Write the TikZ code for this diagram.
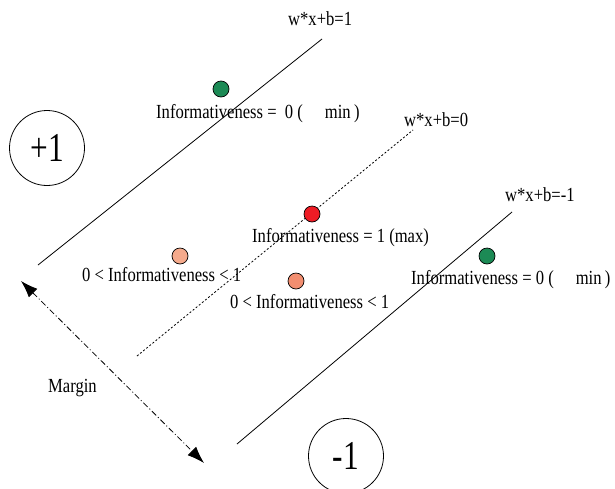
\documentclass[tikz,border=0pt]{standalone}
\usepackage{fontspec}
\setmainfont{Liberation Serif}[FakeStretch=0.83]
\usetikzlibrary{arrows.meta}
\definecolor{dotgreen}{HTML}{1C8A55}
\definecolor{dotred}{HTML}{EE1C25}
\definecolor{salmonA}{HTML}{F5AA8C}
\definecolor{salmonB}{HTML}{F28E70}
\begin{document}
\begin{tikzpicture}[x=1pt,y=-1pt,
  lbl/.style={anchor=base west, inner sep=0pt, font=\fontsize{20}{23}\selectfont},
  dot/.style={circle, draw=black, line width=0.7pt, minimum size=16pt, inner sep=0pt},
  big/.style={circle, draw, line width=0.8pt, minimum size=75pt, inner sep=0pt, font=\fontsize{41}{45}\selectfont},
  hyper/.style={line width=0.8pt},
  midline/.style={line width=0.8pt, dash pattern=on 2pt off 2pt},
  marginarrow/.style={line width=0.8pt, dash pattern=on 6pt off 2.5pt on 1pt off 2.5pt, {Latex[length=17pt,width=12pt]}-{Latex[length=17pt,width=12pt]}}]
\useasboundingbox (0,0) rectangle (615,488);
% hyperplanes
\coordinate (p1a) at (38,265);
\coordinate (p1b) at (322,39);
\coordinate (p0a) at (137,356);
\coordinate (p0b) at (413,130);
\coordinate (m1a) at (237,444);
\coordinate (m1b) at (512,212);
\draw[hyper] (p1a) -- (p1b);
\draw[midline] (p0a) -- (p0b);
\draw[hyper] (m1a) -- (m1b);
% margin arrow
\coordinate (ma) at (21,281);
\coordinate (mb) at (204,463);
\draw[marginarrow] (ma) -- (mb);
\node[lbl] (margin) at (48,392) {Margin};
% class circles
\node[big] (plus) at (47,148) {\scalebox{0.92}[1]{+1}};
\node[big] (minus) at (346,456) {\scalebox{0.92}[1]{-1}};
% equation labels
\node[lbl] (eq1) at (288,25) {w*x+b=1};
\node[lbl] (eq0) at (404,126) {w*x+b=0};
\node[lbl] (eqm1) at (505,201) {w*x+b=-1};
% points
\node[dot, fill=dotgreen] (g1) at (221,89) {};
\node[dot, fill=dotred] (r) at (312,214) {};
\node[dot, fill=dotgreen] (g2) at (487,256) {};
\node[dot, fill=salmonA] (s1) at (180,256) {};
\node[dot, fill=salmonB] (s2) at (296,281) {};
% point labels
\node[lbl] (tg1) at (156,118) {Informativeness =\ \ 0 (\hspace{22pt}min\,)};
\node[lbl] (tr) at (252,242) {Informativeness = 1 (max)};
\node[lbl] (tg2) at (411,284) {Informativeness = 0 (\hspace{22pt}min\,)};
\node[lbl] (ts1) at (82,281) {0 < Informativeness < 1};
\node[lbl] (ts2) at (230,308) {0 < Informativeness < 1};
\end{tikzpicture}
\end{document}
